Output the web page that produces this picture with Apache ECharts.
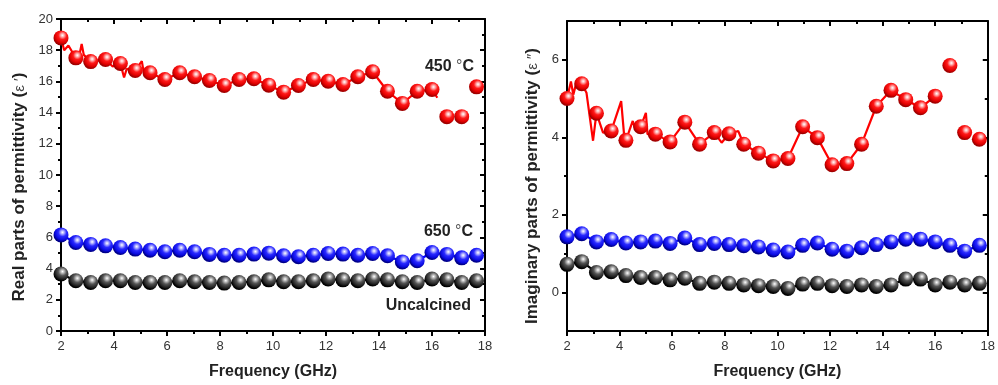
<!DOCTYPE html>
<html>
<head>
<meta charset="utf-8">
<script src="https://cdn.jsdelivr.net/npm/echarts@6/dist/echarts.min.js"></script>
<style>
html,body{margin:0;padding:0;background:#fff;}
#c{width:998px;height:385px;}
</style>
</head>
<body>
<div id="c"></div>
<script>
// ---- data ----
const freq = [2.00, 2.56, 3.12, 3.68, 4.24, 4.80, 5.36, 5.92, 6.48, 7.04, 7.60, 8.16, 8.72, 9.28, 9.84, 10.40, 10.96, 11.52, 12.08, 12.64, 13.20, 13.76, 14.32, 14.88, 15.44, 16.00, 16.56, 17.12, 17.68];

const real450 = [18.79, 17.51, 17.27, 17.40, 17.15, 16.70, 16.55, 16.12, 16.55, 16.30, 16.06, 15.74, 16.12, 16.17, 15.76, 15.31, 15.74, 16.12, 16.01, 15.80, 16.30, 16.62, 15.37, 14.59, 15.37, 15.48, 13.74, 13.74, 15.65];
const real650 = [6.16, 5.67, 5.55, 5.46, 5.35, 5.25, 5.18, 5.08, 5.18, 5.08, 4.91, 4.86, 4.86, 4.93, 4.99, 4.82, 4.76, 4.86, 4.97, 4.93, 4.86, 4.97, 4.82, 4.43, 4.50, 5.03, 4.91, 4.69, 4.86];
const realUnc = [3.65, 3.22, 3.11, 3.22, 3.22, 3.11, 3.11, 3.11, 3.22, 3.16, 3.11, 3.07, 3.11, 3.16, 3.28, 3.16, 3.16, 3.22, 3.33, 3.28, 3.22, 3.33, 3.28, 3.16, 3.11, 3.33, 3.28, 3.11, 3.22];

const imag450 = [5.00, 5.38, 4.62, 4.16, 3.92, 4.27, 4.08, 3.88, 4.39, 3.82, 4.12, 4.09, 3.82, 3.59, 3.39, 3.45, 4.27, 3.99, 3.29, 3.32, 3.82, 4.80, 5.21, 4.97, 4.76, 5.06, 5.85, 4.12, 3.95];
const imag650 = [1.43, 1.51, 1.30, 1.36, 1.27, 1.30, 1.32, 1.26, 1.40, 1.23, 1.26, 1.23, 1.20, 1.17, 1.09, 1.04, 1.21, 1.27, 1.11, 1.06, 1.15, 1.23, 1.30, 1.37, 1.37, 1.30, 1.21, 1.06, 1.21];
const imagUnc = [0.72, 0.79, 0.51, 0.53, 0.43, 0.38, 0.38, 0.32, 0.36, 0.23, 0.26, 0.23, 0.19, 0.17, 0.15, 0.10, 0.21, 0.23, 0.17, 0.15, 0.19, 0.15, 0.19, 0.34, 0.34, 0.19, 0.26, 0.19, 0.23];

// measured traces (line only) for 450 °C, with extra wiggle points between markers
const real450TraceX = [2.00, 2.12, 2.28, 2.42, 2.56, 2.72, 2.78, 2.86, 3.12, 3.68, 3.95, 4.24, 4.38, 4.48, 4.80, 5.05, 5.12, 5.36, 5.92, 6.48, 7.04, 7.60, 8.16, 8.72, 9.28, 9.84, 10.40, 10.96, 11.52, 12.08, 12.64, 13.20, 13.76, 14.32, 14.88, 15.44, 16.00, 16.20];
const real450TraceY = [18.79, 18.00, 18.30, 17.90, 17.51, 17.90, 18.40, 17.70, 17.27, 17.40, 16.95, 17.15, 16.25, 16.80, 16.70, 17.30, 16.60, 16.55, 16.12, 16.55, 16.30, 16.06, 15.74, 16.12, 16.17, 15.76, 15.31, 15.74, 16.12, 16.01, 15.80, 16.30, 16.62, 15.37, 14.59, 15.37, 15.48, 14.95];

const imag450TraceX = [2.00, 2.15, 2.24, 2.34, 2.56, 2.74, 2.99, 3.12, 3.37, 3.68, 4.06, 4.18, 4.24, 4.50, 4.60, 4.80, 5.00, 5.06, 5.36, 5.92, 6.48, 7.04, 7.60, 7.88, 8.16, 8.51, 8.72, 9.28, 9.84, 10.40, 10.96, 11.52, 12.08, 12.64, 13.20, 13.76, 14.32, 14.88, 15.44, 16.00];
const imag450TraceY = [5.00, 5.44, 5.10, 5.36, 5.38, 5.15, 3.91, 4.62, 4.12, 4.16, 4.93, 3.99, 3.92, 4.42, 4.20, 4.27, 4.63, 4.08, 4.08, 3.88, 4.39, 3.82, 4.12, 3.86, 4.09, 4.16, 3.82, 3.59, 3.39, 3.45, 4.27, 3.99, 3.29, 3.32, 3.82, 4.80, 5.21, 4.97, 4.76, 5.06];

const xTickLabels = [2, 4, 6, 8, 10, 12, 14, 16, 18];
const realTickLabels = [0, 2, 4, 6, 8, 10, 12, 14, 16, 18, 20];
const imagTickLabels = [0, 2, 4, 6];
const imagMinorTicks = [1, 3, 5];

const labelFont = {fontFamily: 'Liberation Sans, Arial, sans-serif', fontSize: 13, color: '#333'};
const titleFont = 'Liberation Sans, Arial, sans-serif';

function ball(c0, c1, c2, c3) {
  return {type: 'radial', x: 0.6, y: 0.33, r: 0.62,
    colorStops: [{offset: 0, color: '#ffffff'}, {offset: 0.18, color: c0}, {offset: 0.45, color: c1}, {offset: 0.8, color: c2}, {offset: 1, color: c3}]};
}
const redBall = ball('#ffb0b0', '#ff1a1a', '#e00000', '#a00000');
const blueBall = ball('#b0b0ff', '#2a2aff', '#0a0ae0', '#00008a');
const blackBall = ball('#bbbbbb', '#555555', '#222222', '#000000');

function zip(xs, ys) { return xs.map((x, i) => [x, ys[i]]); }

function lineSeries(xs, ys, color, xi, yi) {
  return {type: 'line', xAxisIndex: xi, yAxisIndex: yi, data: zip(xs, ys), showSymbol: false,
    lineStyle: {color: color, width: 2.2}, z: 2, silent: true, animation: false};
}
function ballSeries(ys, grad, xi, yi) {
  return {type: 'scatter', xAxisIndex: xi, yAxisIndex: yi, data: zip(freq, ys), symbol: 'circle', symbolSize: 15,
    itemStyle: {color: grad, opacity: 1}, z: 3, silent: true, animation: false};
}

const axisLine = {show: true, onZero: false, lineStyle: {color: '#000', width: 2}};

function xAxes(grid) {
  return [
    {type: 'value', gridIndex: grid, position: 'bottom', min: 2, max: 18, interval: 2,
      axisLine: axisLine, axisTick: {show: true, inside: false, length: 5, lineStyle: {color: '#000', width: 2}},
      minorTick: {show: true, splitNumber: 2, length: 3, lineStyle: {color: '#000', width: 2}},
      axisLabel: Object.assign({margin: 9, customValues: xTickLabels}, labelFont),
      splitLine: {show: false},
      name: 'Frequency (GHz)', nameLocation: 'middle', nameGap: 33,
      nameTextStyle: {fontFamily: titleFont, fontWeight: 'bold', fontSize: 16, color: '#222'}},
    {type: 'value', gridIndex: grid, position: 'top', min: 2, max: 18, interval: 2,
      axisLine: axisLine, axisTick: {show: true, inside: true, length: 5, lineStyle: {color: '#000', width: 2}},
      minorTick: {show: true, splitNumber: 2, length: 3, lineStyle: {color: '#000', width: 2}},
      axisLabel: {show: false}, splitLine: {show: false}}
  ];
}

const titleRich = {
  b: {fontFamily: titleFont, fontWeight: 'bold', fontSize: 17, color: '#222'},
  e: {fontFamily: titleFont, fontWeight: 'normal', fontSize: 15, color: '#444'}
};

const option = {
  animation: false,
  backgroundColor: '#fff',
  grid: [
    {left: 61, top: 19, width: 424, height: 313},
    {left: 567, top: 21, width: 425, height: 313}
  ],
  xAxis: [].concat(xAxes(0), xAxes(1)),
  yAxis: [
    {type: 'value', gridIndex: 0, position: 'left', min: 0, max: 20, interval: 2,
      axisLine: axisLine, axisTick: {show: true, inside: false, length: 5, lineStyle: {color: '#000', width: 2}},
      minorTick: {show: true, splitNumber: 2, length: 3, lineStyle: {color: '#000', width: 2}},
      axisLabel: Object.assign({margin: 8, customValues: realTickLabels}, labelFont),
      splitLine: {show: false},
      name: '{b|Real parts of permittivity (}{e|ε ′}{b|)}', nameLocation: 'middle', nameGap: 33,
      nameTextStyle: {rich: titleRich, padding: [0, 24, 0, 0]}},
    {type: 'value', gridIndex: 0, position: 'right', min: 0, max: 20, interval: 2,
      axisLine: axisLine, axisTick: {show: true, inside: true, length: 5, lineStyle: {color: '#000', width: 2}},
      minorTick: {show: true, splitNumber: 2, length: 3, lineStyle: {color: '#000', width: 2}},
      axisLabel: {show: false}, splitLine: {show: false}},
    {type: 'value', gridIndex: 1, position: 'left', min: -1, max: 7,
      axisLine: axisLine,
      axisTick: {show: true, inside: false, length: 5, customValues: imagTickLabels, lineStyle: {color: '#000', width: 2}},
      axisLabel: Object.assign({margin: 8, customValues: imagTickLabels}, labelFont),
      splitLine: {show: false},
      name: '{b|Imaginary parts of permittivity (}{e|ε ″}{b|)}', nameLocation: 'middle', nameGap: 26,
      nameTextStyle: {rich: titleRich, padding: [0, 20, 0, 0]}},
    {type: 'value', gridIndex: 1, position: 'left', offset: 0, min: -1, max: 7,
      axisLine: {show: false},
      axisTick: {show: true, inside: false, length: 3, customValues: imagMinorTicks, lineStyle: {color: '#000', width: 2}},
      axisLabel: {show: false}, splitLine: {show: false}},
    {type: 'value', gridIndex: 1, position: 'right', min: -1, max: 7,
      axisLine: axisLine,
      axisTick: {show: true, inside: true, length: 5, customValues: imagTickLabels, lineStyle: {color: '#000', width: 2}},
      axisLabel: {show: false}, splitLine: {show: false}},
    {type: 'value', gridIndex: 1, position: 'right', offset: 0, min: -1, max: 7,
      axisLine: {show: false},
      axisTick: {show: true, inside: true, length: 3, customValues: imagMinorTicks, lineStyle: {color: '#000', width: 2}},
      axisLabel: {show: false}, splitLine: {show: false}}
  ],
  series: [
    lineSeries(freq, realUnc, '#000', 0, 0),
    lineSeries(freq, real650, '#0000ff', 0, 0),
    lineSeries(real450TraceX, real450TraceY, '#ff0000', 0, 0),
    ballSeries(realUnc, blackBall, 0, 0),
    ballSeries(real650, blueBall, 0, 0),
    ballSeries(real450, redBall, 0, 0),
    lineSeries(freq, imagUnc, '#000', 2, 2),
    lineSeries(freq, imag650, '#0000ff', 2, 2),
    lineSeries(imag450TraceX, imag450TraceY, '#ff0000', 2, 2),
    ballSeries(imagUnc, blackBall, 2, 2),
    ballSeries(imag650, blueBall, 2, 2),
    ballSeries(imag450, redBall, 2, 2)
  ],
  graphic: [
    {type: 'text', right: 998 - 474, top: 59, style: {text: '{b|450 }{d|°}{b|C}', rich: {
      b: {fontFamily: titleFont, fontWeight: 'bold', fontSize: 16, fill: '#222'},
      d: {fontFamily: titleFont, fontWeight: 'normal', fontSize: 16, fill: '#555'}}}},
    {type: 'text', right: 998 - 473, top: 224, style: {text: '{b|650 }{d|°}{b|C}', rich: {
      b: {fontFamily: titleFont, fontWeight: 'bold', fontSize: 16, fill: '#222'},
      d: {fontFamily: titleFont, fontWeight: 'normal', fontSize: 16, fill: '#555'}}}},
    {type: 'text', right: 998 - 471, top: 298, style: {text: 'Uncalcined',
      fontFamily: titleFont, fontWeight: 'bold', fontSize: 16, fill: '#222'}}
  ]
};

const chart = echarts.init(document.getElementById('c'), null, {renderer: 'canvas'});
chart.setOption(option);
</script>
</body>
</html>
